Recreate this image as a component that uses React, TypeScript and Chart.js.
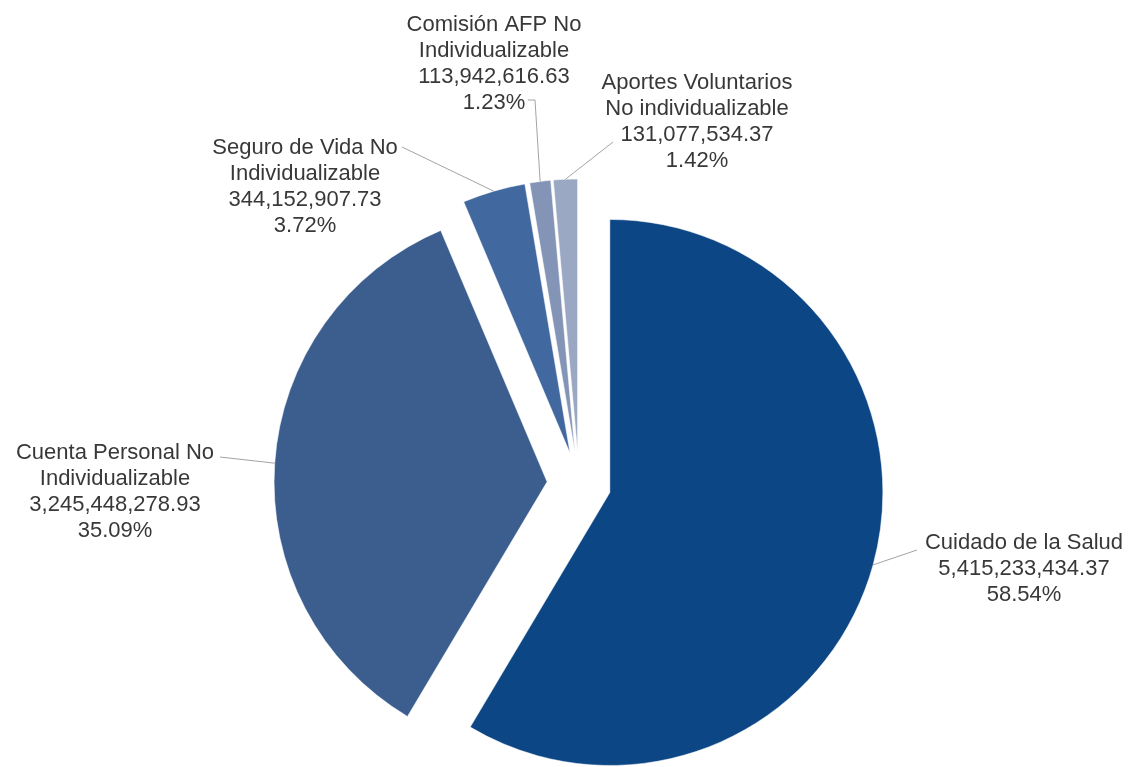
import React, { useEffect, useRef } from "react";
import { Chart, registerables } from "chart.js";

Chart.register(...registerables);

// ---- data ----
const categories = [
  "Cuidado de la Salud",
  "Cuenta Personal No Individualizable",
  "Seguro de Vida No Individualizable",
  "Comisión AFP No Individualizable",
  "Aportes Voluntarios No individualizable",
];
const nameLines = [
  ["Cuidado de la Salud"],
  ["Cuenta Personal No", "Individualizable"],
  ["Seguro de Vida No", "Individualizable"],
  ["Comisión AFP No", "Individualizable"],
  ["Aportes Voluntarios", "No individualizable"],
];
const amounts = [5415233434.37, 3245448278.93, 344152907.73, 113942616.63, 131077534.37];
const amountLabels = ["5,415,233,434.37", "3,245,448,278.93", "344,152,907.73", "113,942,616.63", "131,077,534.37"];
const percentLabels = ["58.54%", "35.09%", "3.72%", "1.23%", "1.42%"];
const sliceColors = ["#0C4684", "#3C5E8E", "#4268A0", "#8494B6", "#9AA8C3"];

// ---- layout / style ----
const RADIUS = 273;
const EXPLODE = 32;
const FONT = '22px "Liberation Sans", Arial, sans-serif';
const LINE_H = 26;
// label text centre (first line) and leader-line elbow points
const labelLayout = [
  { x: 1024, y: 543, line: [[917, 550]] },
  { x: 115, y: 453, line: [[220, 457]] },
  { x: 305, y: 148, line: [[402, 147]] },
  { x: 494, y: 25, line: [[535, 100], [528, 100]] },
  { x: 697, y: 83, line: [[613, 142]] },
];

// explode each slice outward along its mid-angle
const explodePlugin = {
  id: "explode",
  afterDatasetsUpdate(chart: any) {
    const meta = chart.getDatasetMeta(0);
    meta.data.forEach((el: any) => {
      const mid = (el.startAngle + el.endAngle) / 2;
      el.x += Math.cos(mid) * EXPLODE;
      el.y += Math.sin(mid) * EXPLODE;
    });
  },
};

const labelPlugin = {
  id: "pieLabels",
  afterDraw(chart: any) {
    const ctx = chart.ctx;
    const meta = chart.getDatasetMeta(0);
    ctx.save();
    meta.data.forEach((el: any, i: number) => {
      const mid = (el.startAngle + el.endAngle) / 2;
      const px = el.x + Math.cos(mid) * el.outerRadius;
      const py = el.y + Math.sin(mid) * el.outerRadius;
      const lay = labelLayout[i];
      ctx.strokeStyle = "#A3A3A3";
      ctx.lineWidth = 1;
      ctx.beginPath();
      ctx.moveTo(px, py);
      lay.line.forEach((p) => ctx.lineTo(p[0], p[1]));
      ctx.stroke();
      const lines = [...nameLines[i], amountLabels[i], percentLabels[i]];
      ctx.font = FONT;
      ctx.fillStyle = "#383838";
      ctx.textAlign = "center";
      ctx.textBaseline = "middle";
      lines.forEach((t, k) => ctx.fillText(t, lay.x, lay.y + k * LINE_H));
    });
    ctx.restore();
  },
};

export default function App() {
  const ref = useRef<HTMLCanvasElement | null>(null);
  useEffect(() => {
    if (!ref.current) return;
    const chart = new Chart(ref.current, {
      type: "pie",
      data: {
        labels: categories,
        datasets: [
          {
            data: amounts,
            backgroundColor: sliceColors,
            borderColor: "#ffffff",
            borderWidth: 0.5,
            offset: 0,
            hoverOffset: 0,
            radius: RADIUS,
          } as any,
        ],
      },
      options: {
        animation: false,
        responsive: true,
        maintainAspectRatio: false,
        layout: { padding: { left: 22, right: 0, top: 201, bottom: 0 } },
        plugins: {
          legend: { display: false },
          tooltip: { enabled: false },
        },
        events: [],
      },
      plugins: [explodePlugin, labelPlugin],
    });
    return () => chart.destroy();
  }, []);
  return (
    <div style={{ position: "absolute", left: 0, top: 0, width: 1136, height: 767, background: "#fff" }}>
      <canvas ref={ref} />
    </div>
  );
}
